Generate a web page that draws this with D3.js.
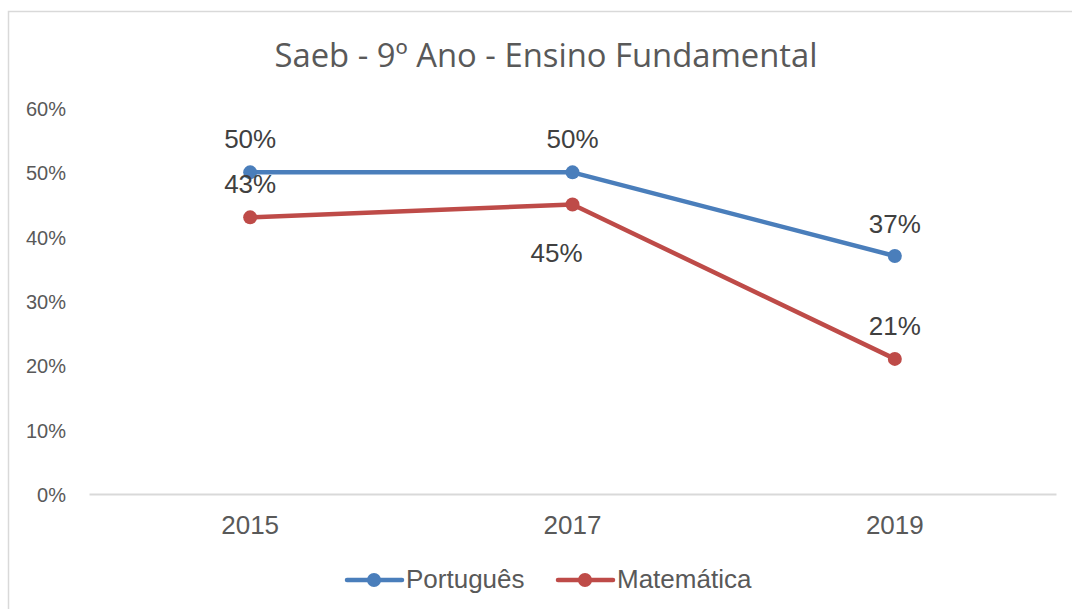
<!DOCTYPE html>
<html>
<head>
<meta charset="utf-8">
<script src="https://d3js.org/d3.v7.min.js"></script>
<style>
  body { margin: 0; background: #fff; }
  svg { display: block; }
</style>
</head>
<body>
<div id="chart"></div>
<script>
// Saeb 9º ano
const years = ["2015", "2017", "2019"];
const portugues = [0.50, 0.50, 0.37];
const matematica = [0.43, 0.45, 0.21];
const yTicks = [0, 0.1, 0.2, 0.3, 0.4, 0.5, 0.6];

const width = 1072, height = 609;
const svg = d3.select('#chart').append('svg')
    .attr('width', width)
    .attr('height', height);

// chart frame
svg.append('rect')
    .attr('x', 8.5).attr('y', 11.5)
    .attr('width', 1080).attr('height', 620)
    .attr('fill', '#fff')
    .attr('stroke', '#d9d9d9')
    .attr('stroke-width', 1.5);

const x = d3.scaleBand().domain(years).range([89, 1056]);
const y = d3.scaleLinear().domain([0, 0.6]).range([494, 108]);
const cx = d => x(d) + x.bandwidth() / 2;

svg.append('text')
    .attr('x', 546).attr('y', 67)
    .attr('text-anchor', 'middle')
    .style('font-family', '"Open Sans", sans-serif')
    .style('font-size', '32.8px')
    .style('fill', '#595959')
    .text('Saeb - 9º Ano - Ensino Fundamental');

// y axis labels
const yAxis = d3.axisLeft(y).tickValues(yTicks).tickFormat(d3.format('.0%')).tickSize(0).tickPadding(0);
const gy = svg.append('g').attr('transform', 'translate(66,0)').call(yAxis);
gy.select('.domain').remove();
gy.selectAll('text')
    .attr('dy', '0.38em')
    .style('font-family', '"Liberation Sans", Arial, sans-serif')
    .style('font-size', '20px')
    .style('fill', '#595959');

// x axis
const xAxis = d3.axisBottom(x).tickSize(0).tickPadding(22);
const gx = svg.append('g').attr('transform', 'translate(0,494)').call(xAxis);
gx.select('.domain').attr('stroke', '#d9d9d9').attr('stroke-width', 2);
gx.selectAll('text')
    .style('font-family', '"Liberation Sans", Arial, sans-serif')
    .style('font-size', '26px')
    .style('fill', '#595959');

const series = [
    {name: 'Português', values: portugues, color: '#4a7ebb', labelDy: [-24, -24, -23], labelDx: [0, 0, 0]},
    {name: 'Matemática', values: matematica, color: '#be4b48', labelDy: [-24, 57, -24], labelDx: [0, -16, 0]}
];

const line = d3.line().x((d, i) => cx(years[i])).y(d => y(d));

series.forEach(s => {
    svg.append('path')
        .datum(s.values)
        .attr('d', line)
        .attr('fill', 'none')
        .attr('stroke', s.color)
        .attr('stroke-width', 4.5)
        .attr('stroke-linejoin', 'round');
    svg.selectAll(null)
        .data(s.values)
        .join('circle')
        .attr('cx', (d, i) => cx(years[i]))
        .attr('cy', d => y(d))
        .attr('r', 7)
        .attr('fill', s.color);
});

// data labels (after all lines so they sit on top)
series.forEach(s => {
    svg.selectAll(null)
        .data(s.values)
        .join('text')
        .attr('x', (d, i) => cx(years[i]) + s.labelDx[i])
        .attr('y', (d, i) => y(d) + s.labelDy[i])
        .attr('text-anchor', 'middle')
        .style('font-family', '"Liberation Sans", Arial, sans-serif')
        .style('font-size', '26px')
        .style('fill', '#404040')
        .text(d => d3.format('.0%')(d));
});

// legend
const legend = svg.append('g');
const legendItems = [{s: series[0], x: 347}, {s: series[1], x: 558}];
legendItems.forEach(l => {
    const g = legend.append('g').attr('transform', `translate(${l.x},580)`);
    g.append('line').attr('x1', 0).attr('x2', 55).attr('y1', 0).attr('y2', 0)
        .attr('stroke', l.s.color).attr('stroke-width', 4.5).attr('stroke-linecap', 'round');
    g.append('circle').attr('cx', 27).attr('cy', 0).attr('r', 7).attr('fill', l.s.color);
    g.append('text').attr('x', 59).attr('y', 8)
        .style('font-family', '"Liberation Sans", Arial, sans-serif')
        .style('font-size', '26px')
        .style('fill', '#595959')
        .text(l.s.name);
});
</script>
</body>
</html>
